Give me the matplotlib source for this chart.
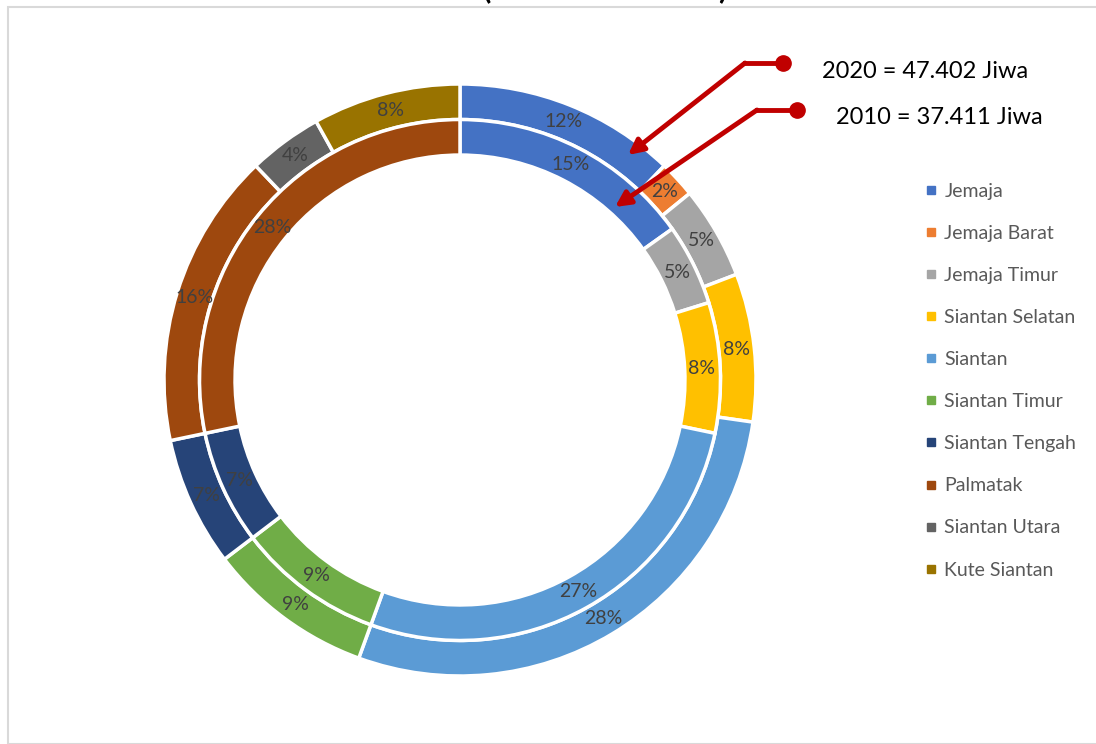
import matplotlib.pyplot as plt
from matplotlib.lines import Line2D
from matplotlib.patches import Rectangle

plt.rcParams['font.family'] = ['Lato', 'DejaVu Sans']

kecamatan = ['Jemaja', 'Jemaja Barat', 'Jemaja Timur', 'Siantan Selatan', 'Siantan',
             'Siantan Timur', 'Siantan Tengah', 'Palmatak', 'Siantan Utara', 'Kute Siantan']
colors = ['#4472C4', '#ED7D31', '#A5A5A5', '#FFC000', '#5B9BD5',
          '#70AD47', '#264478', '#9E480E', '#636363', '#997300']

# population share per kecamatan (%)
share_2020 = [12, 2, 5, 8, 28, 9, 7, 16, 4, 8]
share_2010 = [15, 0, 5, 8, 27, 9, 7, 28, 0, 0]

total_2020 = '2020 = 47.402 Jiwa'
total_2010 = '2010 = 37.411 Jiwa'

fig = plt.figure(figsize=(10.96, 7.44), dpi=100)
W, H = 1096, 744

# chart frame
fig.add_artist(Rectangle((8 / W, 0), 1.2, 1 - 7 / H, transform=fig.transFigure,
                         fill=False, edgecolor='#D9D9D9', linewidth=1.5))
fig.text(487 / W, 1 + 2 / H, '(', fontsize=22, fontweight='bold', ha='center', va='baseline')
fig.text(722 / W, 1 + 2 / H, ')', fontsize=22, fontweight='bold', ha='center', va='baseline')

cx, cy, r = 460, 380, 296
ax = fig.add_axes([(cx - r) / W, (H - cy - r) / H, 2 * r / W, 2 * r / H])


def ring(values, radius, pctdist):
    vals = [v for v in values if v > 0]
    cols = [c for v, c in zip(values, colors) if v > 0]
    ax.pie(vals, colors=cols, radius=radius, startangle=90, counterclock=False,
           autopct=lambda p: f'{p:.0f}%', pctdistance=pctdist,
           wedgeprops=dict(width=0.12, edgecolor='white', linewidth=2.5),
           textprops=dict(color='#404040', fontsize=14))


ring(share_2020, 1.0, 0.94)
ring(share_2010, 0.88, 0.93)
ax.set_xlim(-1, 1)
ax.set_ylim(-1, 1)

# callout arrows
red = '#C00000'
for (x0, y0), (xk, yk), (xt, yt) in [((783, 63), (745, 63), (628, 155)),
                                      ((797, 110), (757, 110), (615, 207))]:
    fig.add_artist(Line2D([x0 / W, xk / W], [1 - y0 / H, 1 - yk / H],
                          transform=fig.transFigure, color=red, linewidth=3.5))
    fig.add_artist(Line2D([x0 / W], [1 - y0 / H], transform=fig.transFigure,
                          marker='o', markersize=11, color=red))
    ax.annotate('', xy=(xt / W, 1 - yt / H), xytext=(xk / W, 1 - yk / H),
                xycoords='figure fraction', textcoords='figure fraction',
                arrowprops=dict(arrowstyle='-|>,head_length=0.9,head_width=0.45',
                                color=red, linewidth=3.5, shrinkA=0, shrinkB=0))
fig.text(822 / W, 1 - 72 / H, total_2020, fontsize=17, va='center')
fig.text(836 / W, 1 - 117 / H, total_2010, fontsize=17, va='center')

handles = [Line2D([], [], linestyle='none', marker='s', markersize=6, color=c) for c in colors]
fig.legend(handles, kecamatan, loc='upper left', bbox_to_anchor=(917 / W, 1 - 175 / H),
           frameon=False, fontsize=14, labelcolor='#595959', labelspacing=1.29,
           handlelength=0.6, handletextpad=0.4, borderaxespad=0)

fig.savefig('out.png', dpi=100)
